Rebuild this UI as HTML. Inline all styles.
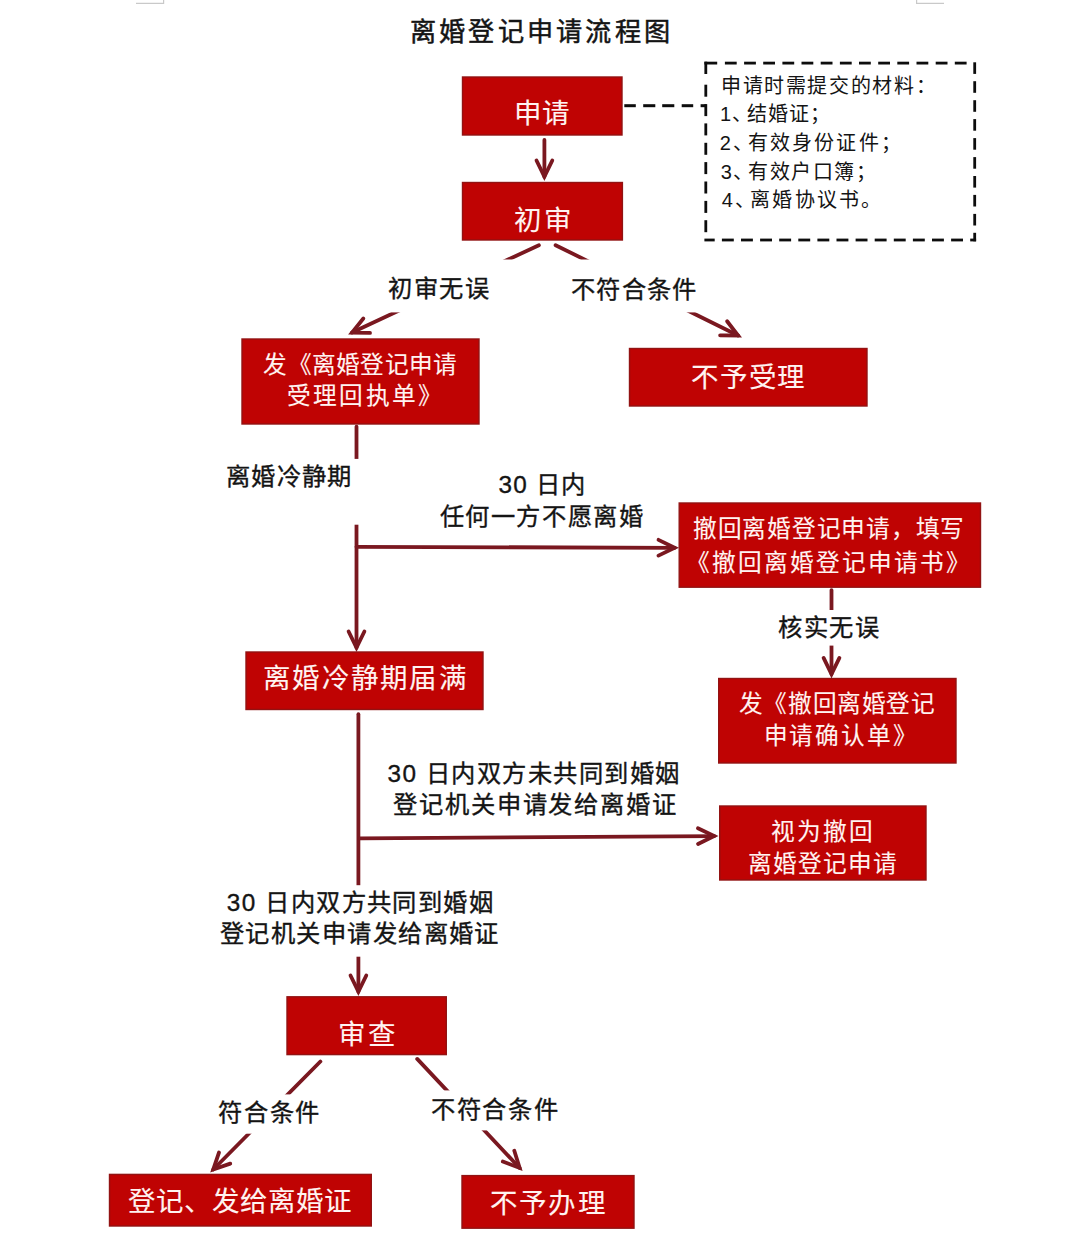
<!DOCTYPE html>
<html lang="zh-CN"><head><meta charset="utf-8"><title>离婚登记申请流程图</title>
<style>
html,body{margin:0;padding:0;background:#fff}
body{width:1080px;height:1248px;position:relative;overflow:hidden;font-family:"Liberation Sans",sans-serif}
svg{position:absolute;left:0;top:0}
.t{position:absolute;line-height:1;white-space:nowrap}
.t i{display:inline-block;font-style:normal;text-align:center}
</style></head><body>
<svg width="1080" height="1248" viewBox="0 0 1080 1248">
<g fill="none" stroke="#c9c9c9" stroke-width="1.2"><path d="M136,3.4 H163.6 V0"/><path d="M916.6,0 V3.4 H944"/></g>
<g fill="#bf0303" stroke="#921313" stroke-width="1.4"><rect x="462.5" y="77" width="159.5" height="58.0"/><rect x="462.5" y="182.5" width="159.9" height="57.5"/><rect x="242" y="339" width="237.0" height="85.0"/><rect x="629.5" y="348.5" width="237.5" height="57.5"/><rect x="679.2" y="503" width="301.3" height="84.2"/><rect x="246" y="652" width="237.0" height="57.5"/><rect x="718.7" y="678.5" width="237.3" height="84.5"/><rect x="719.7" y="806" width="206.3" height="74.0"/><rect x="287" y="996.8" width="159.3" height="57.8"/><rect x="109.5" y="1174.4" width="261.8" height="51.6"/><rect x="462" y="1175.6" width="172.0" height="52.6"/></g>
<g stroke="#7a1820" stroke-width="3.8" fill="none"><line x1="544.4" y1="140" x2="544.4" y2="176.66577313786075" stroke-linecap="round"/><path d="M536.51,160.49 L544.40,176.67 L552.29,160.49" fill="none" stroke-linejoin="miter" stroke-linecap="round"/><line x1="538.9" y1="245.2" x2="352.0263406412756" y2="332.56441517189836" stroke-linecap="round"/><path d="M363.34,318.56 L352.03,332.56 L370.02,332.86" fill="none" stroke-linejoin="miter" stroke-linecap="round"/><line x1="555.6" y1="245.2" x2="738.1150486942248" y2="335.4783663605554" stroke-linecap="round"/><path d="M720.12,335.38 L738.12,335.48 L727.11,321.23" fill="none" stroke-linejoin="miter" stroke-linecap="round"/><line x1="356.5" y1="426.7" x2="356.5" y2="647.6657731378608" stroke-linecap="round"/><path d="M348.61,631.49 L356.50,647.67 L364.39,631.49" fill="none" stroke-linejoin="miter" stroke-linecap="round"/><line x1="356.5" y1="546.8" x2="674.6657939740875" y2="547.78656060147" stroke-linecap="round"/><path d="M658.46,555.63 L674.67,547.79 L658.51,539.85" fill="none" stroke-linejoin="miter" stroke-linecap="round"/><line x1="831.5" y1="590.1" x2="831.5" y2="674.0657731378608" stroke-linecap="round"/><path d="M823.61,657.89 L831.50,674.07 L839.39,657.89" fill="none" stroke-linejoin="miter" stroke-linecap="round"/><line x1="358.4" y1="714.2" x2="358.4" y2="991.6657731378608" stroke-linecap="round"/><path d="M350.51,975.49 L358.40,991.67 L366.29,975.49" fill="none" stroke-linejoin="miter" stroke-linecap="round"/><line x1="360" y1="838.4" x2="714.1658702584278" y2="836.0290150945043" stroke-linecap="round"/><path d="M698.04,844.03 L714.17,836.03 L697.94,828.25" fill="none" stroke-linejoin="miter" stroke-linecap="round"/><line x1="320.4" y1="1061.5" x2="213.25227195549138" y2="1169.5228002336198" stroke-linecap="round"/><path d="M219.04,1152.48 L213.25,1169.52 L230.25,1163.59" fill="none" stroke-linejoin="miter" stroke-linecap="round"/><line x1="417.2" y1="1058.9" x2="519.6324612222081" y2="1167.9410071075117" stroke-linecap="round"/><path d="M502.80,1161.55 L519.63,1167.94 L514.31,1150.75" fill="none" stroke-linejoin="miter" stroke-linecap="round"/></g>
<g fill="#fff"><rect x="380" y="259.5" width="340.0" height="52.9"/><rect x="215" y="458.9" width="155.0" height="65.8"/><rect x="770" y="610" width="120.0" height="35.6"/><rect x="210" y="885.2" width="295.0" height="71.5"/><rect x="200" y="1094.4" width="130.0" height="39.3"/><rect x="425" y="1090.4" width="140.0" height="40.0"/></g>
<g fill="#0d0d0d"><rect x="704.4" y="61.7" width="12.8" height="2.8"/><rect x="724.9" y="61.7" width="11.8" height="2.8"/><rect x="744.1" y="61.7" width="11.8" height="2.8"/><rect x="763.2" y="61.7" width="11.8" height="2.8"/><rect x="782.4" y="61.7" width="11.8" height="2.8"/><rect x="801.5" y="61.7" width="11.8" height="2.8"/><rect x="820.7" y="61.7" width="11.8" height="2.8"/><rect x="839.9" y="61.7" width="11.8" height="2.8"/><rect x="859.0" y="61.7" width="11.8" height="2.8"/><rect x="878.2" y="61.7" width="11.8" height="2.8"/><rect x="897.3" y="61.7" width="11.8" height="2.8"/><rect x="916.5" y="61.7" width="11.8" height="2.8"/><rect x="935.7" y="61.7" width="11.8" height="2.8"/><rect x="954.8" y="61.7" width="11.8" height="2.8"/><rect x="973.3" y="62.3" width="2.8" height="11.6"/><rect x="973.3" y="81.2" width="2.8" height="11.6"/><rect x="973.3" y="100.2" width="2.8" height="11.6"/><rect x="973.3" y="119.1" width="2.8" height="11.6"/><rect x="973.3" y="138.1" width="2.8" height="11.6"/><rect x="973.3" y="157.1" width="2.8" height="11.6"/><rect x="973.3" y="176.0" width="2.8" height="11.6"/><rect x="973.3" y="194.9" width="2.8" height="11.6"/><rect x="973.3" y="213.9" width="2.8" height="11.6"/><rect x="973.3" y="232.8" width="2.8" height="8.5"/><rect x="704.4" y="238.6" width="10.3" height="2.8"/><rect x="721.9" y="238.6" width="11.9" height="2.8"/><rect x="741.0" y="238.6" width="11.9" height="2.8"/><rect x="760.1" y="238.6" width="11.9" height="2.8"/><rect x="779.2" y="238.6" width="11.9" height="2.8"/><rect x="798.3" y="238.6" width="11.9" height="2.8"/><rect x="817.4" y="238.6" width="11.9" height="2.8"/><rect x="836.5" y="238.6" width="11.9" height="2.8"/><rect x="855.6" y="238.6" width="11.9" height="2.8"/><rect x="874.7" y="238.6" width="11.9" height="2.8"/><rect x="893.8" y="238.6" width="11.9" height="2.8"/><rect x="912.9" y="238.6" width="11.9" height="2.8"/><rect x="932.0" y="238.6" width="11.9" height="2.8"/><rect x="951.1" y="238.6" width="11.9" height="2.8"/><rect x="970.2" y="238.6" width="5.9" height="2.8"/><rect x="704.4" y="61.7" width="2.8" height="12.3"/><rect x="704.4" y="84.7" width="2.8" height="12.0"/><rect x="704.4" y="104.1" width="2.8" height="12.0"/><rect x="704.4" y="123.4" width="2.8" height="12.0"/><rect x="704.4" y="142.8" width="2.8" height="12.0"/><rect x="704.4" y="162.1" width="2.8" height="12.0"/><rect x="704.4" y="181.5" width="2.8" height="12.0"/><rect x="704.4" y="200.9" width="2.8" height="12.0"/><rect x="704.4" y="220.2" width="2.8" height="12.0"/><rect x="624.3" y="104.2" width="11.5" height="3.0"/><rect x="643.2" y="104.2" width="12.1" height="3.0"/><rect x="662.2" y="104.2" width="12.1" height="3.0"/><rect x="681.7" y="104.2" width="11.5" height="3.0"/><rect x="700.6" y="104.2" width="5.2" height="3.0"/></g>
</svg>
<div class="t" style="left:408.411px;top:19.3px;font-size:26.2px;color:#141414;font-weight:400;-webkit-text-stroke:0.5px currentColor"><i style="width:29.235px">离</i><i style="width:29.234px">婚</i><i style="width:29.250px">登</i><i style="width:29.234px">记</i><i style="width:29.235px">申</i><i style="width:29.250px">请</i><i style="width:29.234px">流</i><i style="width:29.235px">程</i><i style="width:29.266px">图</i></div>
<div class="t" style="left:513.500px;top:100.35px;font-size:27.5px;color:#fff3f1;font-weight:400;-webkit-text-stroke:0.1px currentColor"><i style="width:28.000px">申</i><i style="width:28.000px">请</i></div>
<div class="t" style="left:512.388px;top:206.7px;font-size:27.5px;color:#fff3f1;font-weight:400;-webkit-text-stroke:0.1px currentColor"><i style="width:30.093px">初</i><i style="width:30.109px">审</i></div>
<div class="t" style="left:263.100px;top:354.0px;font-size:23.7px;color:#fff3f1;font-weight:400;-webkit-text-stroke:0.1px currentColor"><i style="width:24.297px">发</i><i style="width:24.297px">《</i><i style="width:24.297px">离</i><i style="width:24.297px">婚</i><i style="width:24.296px">登</i><i style="width:24.313px">记</i><i style="width:24.297px">申</i><i style="width:24.312px">请</i></div>
<div class="t" style="left:285.900px;top:385.3px;font-size:23.7px;color:#fff3f1;font-weight:400;-webkit-text-stroke:0.1px currentColor"><i style="width:26.188px">受</i><i style="width:26.203px">理</i><i style="width:26.203px">回</i><i style="width:26.203px">执</i><i style="width:26.187px">单</i><i style="width:26.219px">》</i></div>
<div class="t" style="left:690.416px;top:363.75px;font-size:27.5px;color:#fff3f1;font-weight:400;-webkit-text-stroke:0.1px currentColor"><i style="width:28.719px">不</i><i style="width:28.734px">予</i><i style="width:28.735px">受</i><i style="width:28.734px">理</i></div>
<div class="t" style="left:692.417px;top:518.1px;font-size:23.7px;color:#fff3f1;font-weight:400;-webkit-text-stroke:0.1px currentColor"><i style="width:24.750px">撤</i><i style="width:24.765px">回</i><i style="width:24.750px">离</i><i style="width:24.766px">婚</i><i style="width:24.766px">登</i><i style="width:24.750px">记</i><i style="width:24.765px">申</i><i style="width:24.766px">请</i><i style="width:24.750px">，</i><i style="width:24.766px">填</i><i style="width:24.781px">写</i></div>
<div class="t" style="left:685.307px;top:551.7px;font-size:23.7px;color:#fff3f1;font-weight:400;-webkit-text-stroke:0.1px currentColor"><i style="width:25.969px">《</i><i style="width:25.984px">撤</i><i style="width:25.984px">回</i><i style="width:25.969px">离</i><i style="width:25.985px">婚</i><i style="width:25.984px">登</i><i style="width:25.984px">记</i><i style="width:25.969px">申</i><i style="width:25.984px">请</i><i style="width:25.985px">书</i><i style="width:25.984px">》</i></div>
<div class="t" style="left:261.865px;top:665.4px;font-size:27.5px;color:#fff3f1;font-weight:400;-webkit-text-stroke:0.1px currentColor"><i style="width:29.266px">离</i><i style="width:29.265px">婚</i><i style="width:29.266px">冷</i><i style="width:29.281px">静</i><i style="width:29.266px">期</i><i style="width:29.265px">届</i><i style="width:29.281px">满</i></div>
<div class="t" style="left:738.643px;top:692.6px;font-size:23.7px;color:#fff3f1;font-weight:400;-webkit-text-stroke:0.1px currentColor"><i style="width:24.578px">发</i><i style="width:24.593px">《</i><i style="width:24.594px">撤</i><i style="width:24.594px">回</i><i style="width:24.578px">离</i><i style="width:24.594px">婚</i><i style="width:24.593px">登</i><i style="width:24.609px">记</i></div>
<div class="t" style="left:762.561px;top:725.0px;font-size:23.7px;color:#fff3f1;font-weight:400;-webkit-text-stroke:0.1px currentColor"><i style="width:25.938px">申</i><i style="width:25.937px">请</i><i style="width:25.938px">确</i><i style="width:25.937px">认</i><i style="width:25.938px">单</i><i style="width:25.953px">》</i></div>
<div class="t" style="left:770.519px;top:821.0px;font-size:23.7px;color:#fff3f1;font-weight:400;-webkit-text-stroke:0.1px currentColor"><i style="width:25.922px">视</i><i style="width:25.938px">为</i><i style="width:25.922px">撤</i><i style="width:25.953px">回</i></div>
<div class="t" style="left:747.034px;top:853.25px;font-size:23.7px;color:#fff3f1;font-weight:400;-webkit-text-stroke:0.1px currentColor"><i style="width:25.109px">离</i><i style="width:25.125px">婚</i><i style="width:25.125px">登</i><i style="width:25.109px">记</i><i style="width:25.126px">申</i><i style="width:25.141px">请</i></div>
<div class="t" style="left:336.794px;top:1021.1px;font-size:27.5px;color:#fff3f1;font-weight:400;-webkit-text-stroke:0.1px currentColor"><i style="width:30.094px">审</i><i style="width:30.109px">查</i></div>
<div class="t" style="left:127.718px;top:1188.05px;font-size:27.5px;color:#fff3f1;font-weight:400;-webkit-text-stroke:0.1px currentColor"><i style="width:27.969px">登</i><i style="width:27.969px">记</i><i style="width:27.968px">、</i><i style="width:27.969px">发</i><i style="width:27.969px">给</i><i style="width:27.969px">离</i><i style="width:27.968px">婚</i><i style="width:27.984px">证</i></div>
<div class="t" style="left:488.900px;top:1189.95px;font-size:27.5px;color:#fff3f1;font-weight:400;-webkit-text-stroke:0.1px currentColor"><i style="width:29.188px">不</i><i style="width:29.203px">予</i><i style="width:29.203px">办</i><i style="width:29.219px">理</i></div>
<div class="t" style="left:387.184px;top:277.05px;font-size:24.3px;color:#141414;font-weight:400;-webkit-text-stroke:0.35px currentColor"><i style="width:25.594px">初</i><i style="width:25.594px">审</i><i style="width:25.609px">无</i><i style="width:25.609px">误</i></div>
<div class="t" style="left:570.325px;top:277.85px;font-size:24.3px;color:#141414;font-weight:400;-webkit-text-stroke:0.35px currentColor"><i style="width:25.344px">不</i><i style="width:25.344px">符</i><i style="width:25.359px">合</i><i style="width:25.344px">条</i><i style="width:25.359px">件</i></div>
<div class="t" style="left:225.553px;top:465.15px;font-size:24.3px;color:#141414;font-weight:400;-webkit-text-stroke:0.35px currentColor"><i style="width:25.297px">离</i><i style="width:25.297px">婚</i><i style="width:25.297px">冷</i><i style="width:25.297px">静</i><i style="width:25.312px">期</i></div>
<div class="t" style="left:498.019px;top:472.75px;font-size:24.3px;color:#141414;font-weight:400;-webkit-text-stroke:0.35px currentColor"><i style="width:14.656px">3</i><i style="width:14.656px">0</i><i style="width:7.906px"> </i><i style="width:25.157px">日</i><i style="width:25.156px">内</i></div>
<div class="t" style="left:438.836px;top:505.3px;font-size:24.3px;color:#141414;font-weight:400;-webkit-text-stroke:0.35px currentColor"><i style="width:25.609px">任</i><i style="width:25.609px">何</i><i style="width:25.610px">一</i><i style="width:25.609px">方</i><i style="width:25.610px">不</i><i style="width:25.609px">愿</i><i style="width:25.609px">离</i><i style="width:25.625px">婚</i></div>
<div class="t" style="left:777.784px;top:615.9px;font-size:24.3px;color:#141414;font-weight:400;-webkit-text-stroke:0.35px currentColor"><i style="width:25.391px">核</i><i style="width:25.406px">实</i><i style="width:25.391px">无</i><i style="width:25.422px">误</i></div>
<div class="t" style="left:386.802px;top:762.2px;font-size:24.3px;color:#141414;font-weight:400;-webkit-text-stroke:0.35px currentColor"><i style="width:15.000px">3</i><i style="width:15.000px">0</i><i style="width:8.234px"> </i><i style="width:25.500px">日</i><i style="width:25.485px">内</i><i style="width:25.484px">双</i><i style="width:25.500px">方</i><i style="width:25.484px">未</i><i style="width:25.485px">共</i><i style="width:25.500px">同</i><i style="width:25.484px">到</i><i style="width:25.485px">婚</i><i style="width:25.516px">姻</i></div>
<div class="t" style="left:392.590px;top:793.1px;font-size:24.3px;color:#141414;font-weight:400;-webkit-text-stroke:0.35px currentColor"><i style="width:25.812px">登</i><i style="width:25.813px">记</i><i style="width:25.828px">机</i><i style="width:25.813px">关</i><i style="width:25.828px">申</i><i style="width:25.812px">请</i><i style="width:25.828px">发</i><i style="width:25.813px">给</i><i style="width:25.828px">离</i><i style="width:25.813px">婚</i><i style="width:25.844px">证</i></div>
<div class="t" style="left:226.067px;top:890.85px;font-size:24.3px;color:#141414;font-weight:400;-webkit-text-stroke:0.35px currentColor"><i style="width:15.000px">3</i><i style="width:15.000px">0</i><i style="width:8.235px"> </i><i style="width:25.500px">日</i><i style="width:25.484px">内</i><i style="width:25.485px">双</i><i style="width:25.500px">方</i><i style="width:25.484px">共</i><i style="width:25.484px">同</i><i style="width:25.500px">到</i><i style="width:25.485px">婚</i><i style="width:25.500px">姻</i></div>
<div class="t" style="left:218.911px;top:922.4px;font-size:24.3px;color:#141414;font-weight:400;-webkit-text-stroke:0.35px currentColor"><i style="width:25.485px">登</i><i style="width:25.484px">记</i><i style="width:25.500px">机</i><i style="width:25.484px">关</i><i style="width:25.485px">申</i><i style="width:25.500px">请</i><i style="width:25.484px">发</i><i style="width:25.484px">给</i><i style="width:25.500px">离</i><i style="width:25.485px">婚</i><i style="width:25.500px">证</i></div>
<div class="t" style="left:217.571px;top:1101.0px;font-size:24.3px;color:#141414;font-weight:400;-webkit-text-stroke:0.35px currentColor"><i style="width:25.656px">符</i><i style="width:25.672px">合</i><i style="width:25.672px">条</i><i style="width:25.688px">件</i></div>
<div class="t" style="left:430.673px;top:1097.8px;font-size:24.3px;color:#141414;font-weight:400;-webkit-text-stroke:0.35px currentColor"><i style="width:25.515px">不</i><i style="width:25.531px">符</i><i style="width:25.532px">合</i><i style="width:25.531px">条</i><i style="width:25.547px">件</i></div>
<div class="t" style="left:720.123px;top:76.05px;font-size:20.0px;color:#141414;font-weight:400"><i style="width:21.624px">申</i><i style="width:21.626px">请</i><i style="width:21.624px">时</i><i style="width:21.641px">需</i><i style="width:21.625px">提</i><i style="width:21.625px">交</i><i style="width:21.641px">的</i><i style="width:21.625px">材</i><i style="width:21.625px">料</i><i style="width:21.656px">：</i></div>
<div class="t" style="left:719.360px;top:103.9px;font-size:20.0px;color:#141414;font-weight:400"><i style="width:12.406px">1</i><i style="width:14.282px;text-align:left;padding-left:0.640px;box-sizing:border-box">、</i><i style="width:21.265px">结</i><i style="width:21.281px">婚</i><i style="width:21.282px">证</i><i style="width:21.297px">；</i></div>
<div class="t" style="left:718.799px;top:133.1px;font-size:20.0px;color:#141414;font-weight:400"><i style="width:13.218px">2</i><i style="width:15.094px;text-align:left;padding-left:1.045px;box-sizing:border-box">、</i><i style="width:22.078px">有</i><i style="width:22.094px">效</i><i style="width:22.094px">身</i><i style="width:22.094px">份</i><i style="width:22.078px">证</i><i style="width:22.094px">件</i><i style="width:22.109px">；</i></div>
<div class="t" style="left:719.970px;top:161.5px;font-size:20.0px;color:#141414;font-weight:400"><i style="width:12.688px">3</i><i style="width:14.562px;text-align:left;padding-left:0.780px;box-sizing:border-box">、</i><i style="width:21.547px">有</i><i style="width:21.562px">效</i><i style="width:21.563px">户</i><i style="width:21.562px">口</i><i style="width:21.563px">簿</i><i style="width:21.578px">；</i></div>
<div class="t" style="left:720.521px;top:189.5px;font-size:20.0px;color:#141414;font-weight:400"><i style="width:13.375px">4</i><i style="width:15.250px;text-align:left;padding-left:1.120px;box-sizing:border-box">、</i><i style="width:22.234px">离</i><i style="width:22.234px">婚</i><i style="width:22.250px">协</i><i style="width:22.235px">议</i><i style="width:22.234px">书</i><i style="width:22.266px">。</i></div>
</body></html>
